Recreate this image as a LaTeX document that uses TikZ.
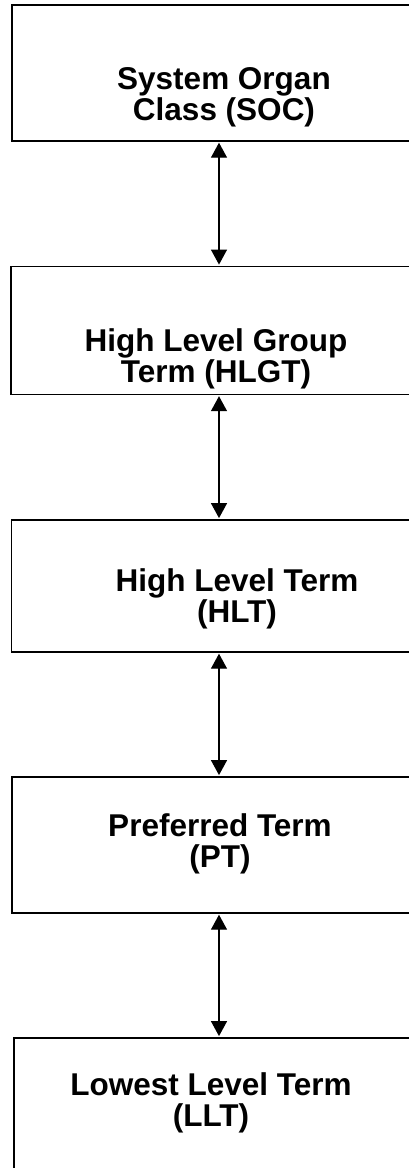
\documentclass[tikz,border=0pt]{standalone}
\usepackage{fontspec}
\setmainfont{Liberation Sans}
\usetikzlibrary{arrows.meta}
\tikzset{
  box/.style={draw=black, line width=1.8pt, fill=white, anchor=north west, inner sep=0pt, minimum width=410pt},
  lbl/.style={font=\fontsize{31.5}{31}\selectfont\bfseries, align=center, inner sep=0pt},
  arr/.style={line width=1.3pt, {Triangle[width=16pt,length=15pt]}-{Triangle[width=16pt,length=15pt]}, shorten <=0.9pt, shorten >=0.9pt}
}
\begin{document}
\begin{tikzpicture}[x=1pt,y=-1pt]
\useasboundingbox (0,0) rectangle (409,1168);
\clip (0,0) rectangle (409,1168);
\node[box, minimum height=136pt] (soc) at (11,4) {};
\node[box, minimum height=128pt] (hlgt) at (10,265.5) {};
\node[box, minimum height=132pt] (hlt) at (10.5,519) {};
\node[box, minimum height=136pt] (pt) at (11,776) {};
\node[box, minimum height=160pt] (llt) at (13,1037) {};
\node[lbl] (tsoc) at (224,97) {System Organ\\Class (SOC)};
\node[lbl] (thlgt) at (216,359) {High Level Group\\Term (HLGT)};
\node[lbl] (thlt) at (237,599) {High Level Term\\(HLT)};
\node[lbl] (tpt) at (220,844) {Preferred Term\\(PT)};
\node[lbl] (tllt) at (211,1103) {Lowest Level Term\\(LLT)};
\coordinate (ax) at (219,0);
\draw[arr] (ax |- soc.south) -- (ax |- hlgt.north);
\draw[arr] (ax |- hlgt.south) -- (ax |- hlt.north);
\draw[arr] (ax |- hlt.south) -- (ax |- pt.north);
\draw[arr] (ax |- pt.south) -- (ax |- llt.north);
\end{tikzpicture}
\end{document}
